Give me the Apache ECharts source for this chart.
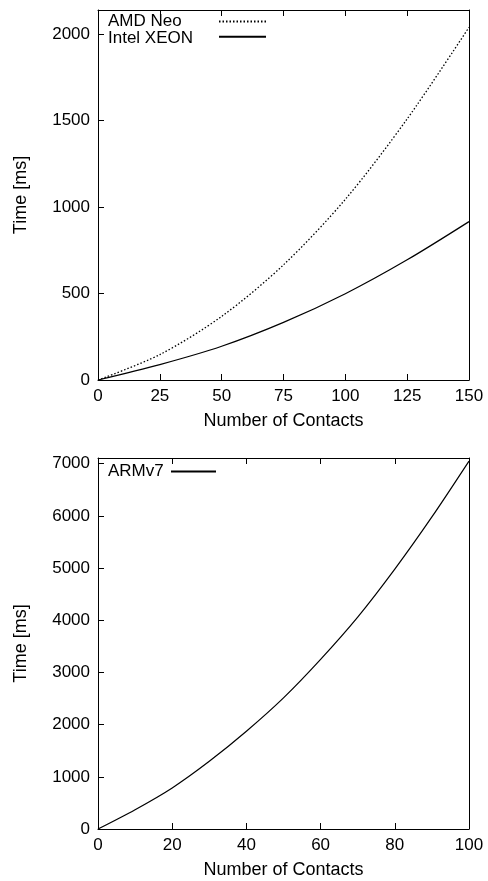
<!DOCTYPE html>
<html>
<head>
<meta charset="utf-8">
<script src="https://cdn.jsdelivr.net/npm/echarts@6/dist/echarts.min.js"></script>
<style>
  html, body { margin: 0; padding: 0; background: #fff; }
  #chart { width: 488px; height: 881px; }
</style>
</head>
<body>
<div id="chart"></div>
<script>
// ---- Data ----
const contactsTop = [0, 25, 50, 75, 100, 125, 150];
const amdNeo      = [0, 147, 368, 666, 1045, 1510, 2040];
const intelXeon   = [0, 89, 195, 333, 499, 695, 916];

const contactsBottom = [0, 10, 20, 30, 40, 50, 60, 70, 80, 90, 100];
const armv7          = [0, 370, 787, 1297, 1873, 2512, 3250, 4060, 4980, 5980, 7050];

const seriesNames = ['AMD Neo', 'Intel XEON', 'ARMv7'];
const xAxisTitle = 'Number of Contacts';
const yAxisTitle = 'Time [ms]';

const pairs = (xs, ys) => xs.map((x, i) => [x, ys[i]]);

const FONT = 'Liberation Sans';
const txt = { color: '#000', fontFamily: FONT, fontSize: 17 };
const plain = v => String(v);

function bottomX(gridIndex, max, interval) {
  return {
    type: 'value', gridIndex, position: 'bottom', min: 0, max, interval,
    name: xAxisTitle, nameLocation: 'middle', nameGap: 32,
    nameTextStyle: Object.assign({}, txt, { fontSize: 18 }),
    axisLine: { show: true, onZero: false, lineStyle: { color: '#000', width: 1 } },
    axisTick: { show: true, inside: true, length: 6, lineStyle: { color: '#000' } },
    axisLabel: Object.assign({ margin: 8, formatter: plain }, txt),
    splitLine: { show: false }
  };
}
function topX(gridIndex, max, interval) {
  return {
    type: 'value', gridIndex, position: 'top', min: 0, max, interval,
    axisLine: { show: true, onZero: false, lineStyle: { color: '#000', width: 1 } },
    axisTick: { show: true, inside: true, length: 6, lineStyle: { color: '#000' } },
    axisLabel: { show: false },
    splitLine: { show: false }
  };
}
function leftY(gridIndex, max, interval) {
  return {
    type: 'value', gridIndex, position: 'left', min: 0, max, interval,
    name: yAxisTitle, nameLocation: 'middle', nameGap: 68,
    nameTextStyle: Object.assign({}, txt, { fontSize: 18 }),
    axisLine: { show: true, onZero: false, lineStyle: { color: '#000', width: 1 } },
    axisTick: { show: true, inside: true, length: 6, lineStyle: { color: '#000' } },
    axisLabel: Object.assign({ margin: 8, showMaxLabel: false, formatter: plain }, txt),
    splitLine: { show: false }
  };
}
function rightY(gridIndex, max, interval) {
  return {
    type: 'value', gridIndex, position: 'right', min: 0, max, interval,
    axisLine: { show: true, onZero: false, lineStyle: { color: '#000', width: 1 } },
    axisTick: { show: false },
    axisLabel: { show: false },
    splitLine: { show: false }
  };
}

// legend: one for the line samples (no text), one for the names (no icon)
function iconLegend(names, left, top, width) {
  return {
    data: names, orient: 'vertical', left, top, align: 'left',
    itemWidth: width, itemHeight: 17, itemGap: 0, padding: 0,
    itemStyle: { opacity: 0 },
    formatter: () => '',
    textStyle: { fontSize: 1 },
    selectedMode: false
  };
}
function textLegend(names, left, top) {
  return {
    data: names.map(n => ({ name: n, icon: 'none' })),
    orient: 'vertical', left, top, align: 'left',
    itemWidth: 0, itemHeight: 17, itemGap: 0, padding: 0,
    textStyle: { color: '#000', fontFamily: FONT, fontSize: 17, lineHeight: 17 },
    selectedMode: false
  };
}

const chart = echarts.init(document.getElementById('chart'), null, { renderer: 'canvas' });
chart.setOption({
  animation: false,
  backgroundColor: '#fff',
  grid: [
    { left: 98, top: 10, width: 371, height: 370 },
    { left: 98, top: 458, width: 371, height: 371 }
  ],
  xAxis: [
    bottomX(0, 150, 25),
    topX(0, 150, 25),
    bottomX(1, 100, 20),
    topX(1, 100, 20)
  ],
  yAxis: [
    leftY(0, 2140, 500),
    rightY(0, 2140, 500),
    leftY(1, 7110, 1000),
    rightY(1, 7110, 1000)
  ],
  legend: [
    iconLegend([seriesNames[0], seriesNames[1]], 218, 13, 47),
    textLegend([seriesNames[0], seriesNames[1]], 103, 13),
    iconLegend([seriesNames[2]], 170, 463, 45),
    textLegend([seriesNames[2]], 103, 463)
  ],
  series: [
    {
      name: seriesNames[0], type: 'line', xAxisIndex: 0, yAxisIndex: 0,
      data: pairs(contactsTop, amdNeo), smooth: 0.3, symbol: 'none', showSymbol: false,
      lineStyle: { color: '#000', width: 1.3, type: [1.5, 2] }, itemStyle: { color: '#000' }
    },
    {
      name: seriesNames[1], type: 'line', xAxisIndex: 0, yAxisIndex: 0,
      data: pairs(contactsTop, intelXeon), smooth: 0.3, symbol: 'none', showSymbol: false,
      lineStyle: { color: '#000', width: 1.2 }, itemStyle: { color: '#000' }
    },
    {
      name: seriesNames[2], type: 'line', xAxisIndex: 2, yAxisIndex: 2,
      data: pairs(contactsBottom, armv7), smooth: 0.3, symbol: 'none', showSymbol: false,
      lineStyle: { color: '#000', width: 1.2 }, itemStyle: { color: '#000' }
    }
  ]
});
</script>
</body>
</html>
